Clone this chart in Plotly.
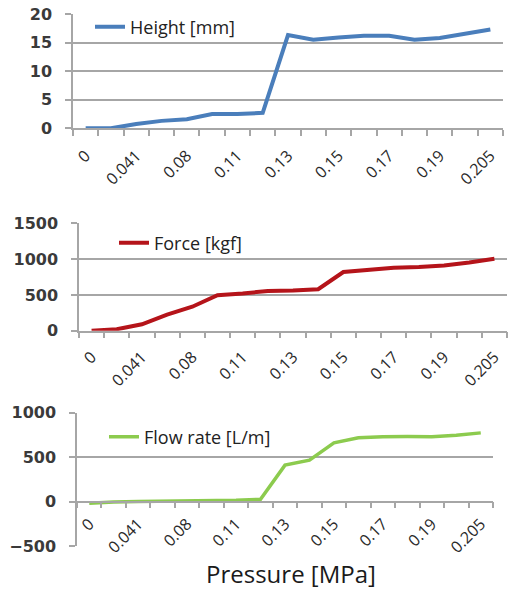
import plotly.graph_objects as go

# ---- data ----
pressure = ["0", "0.02", "0.041", "0.06", "0.08", "0.1", "0.11", "0.12", "0.13",
            "0.14", "0.15", "0.16", "0.17", "0.18", "0.19", "0.2", "0.205"]
height_mm = [0, 0, 0.75, 1.3, 1.6, 2.5, 2.5, 2.7, 16.3, 15.5, 15.9, 16.2, 16.2,
             15.5, 15.8, 16.5, 17.3]
force_kgf = [0, 20, 90, 225, 335, 495, 520, 555, 560, 580, 820, 850, 880, 888,
             911, 953, 1005]
flow_lpm = [-20, -5, 0, 2, 5, 10, 15, 25, 410, 466, 660, 717, 730, 732, 730,
            745, 773]
shown_labels = ["0", "0.041", "0.08", "0.11", "0.13", "0.15", "0.17", "0.19", "0.205"]

x_pos = list(range(len(pressure)))
tick_pos = [i for i, p in enumerate(pressure) if p in shown_labels]
tick_txt = [pressure[i] for i in tick_pos]

W, H = 508, 590
def fx(px):
    return px / W
def fy(py):
    return 1 - py / H

GRID = "#a6a6a6"
FONT = "Open Sans"

fig = go.Figure()
fig.add_trace(go.Scatter(x=x_pos, y=height_mm, mode="lines", name="Height [mm]",
                         line=dict(color="#4a7ebb", width=4), xaxis="x", yaxis="y",
                         legend="legend", showlegend=True))
fig.add_trace(go.Scatter(x=x_pos, y=force_kgf, mode="lines", name="Force [kgf]",
                         line=dict(color="#b5141a", width=4), xaxis="x2", yaxis="y2",
                         legend="legend2", showlegend=True))
fig.add_trace(go.Scatter(x=x_pos, y=flow_lpm, mode="lines", name="Flow rate [L/m]",
                         line=dict(color="#8ccb4e", width=3.5), xaxis="x3", yaxis="y3",
                         legend="legend3", showlegend=True))

def xaxis(domain, anchor, position=None, standoff=8):
    d = dict(domain=domain, range=[-0.5, len(pressure) - 0.5], tickmode="array",
             tickvals=tick_pos, ticktext=tick_txt, tickangle=-45, ticks="",
             showline=True, linecolor=GRID, linewidth=1.5, showgrid=False,
             zeroline=False, automargin=False,
             tickfont=dict(family=FONT, size=16, color="#2a2a2a"),
             ticklabelstandoff=standoff,
             minor=dict(ticks="outside", tickmode="linear", tick0=-0.5, dtick=1,
                        ticklen=6, tickcolor=GRID, tickwidth=1.5, showgrid=False),
             anchor=anchor)
    if position is not None:
        d["position"] = position
    return d

def yaxis(domain, rng, dtick, anchor):
    return dict(domain=domain, range=rng, dtick=dtick, tick0=rng[0], showgrid=True,
                gridcolor=GRID, gridwidth=1.5, showline=True, linecolor=GRID,
                linewidth=1.5, ticks="outside", ticklen=6, tickcolor=GRID,
                tickwidth=1.5, zeroline=False, anchor=anchor, automargin=False,
                ticklabelstandoff=10,
                tickfont=dict(family="DejaVu Sans", size=16, color="#3a3a3a",
                              weight="bold"))

y1d = [fy(128.3), fy(14)]
y2d = [fy(330.7), fy(223.3)]
y3d = [fy(546), fy(412.7)]
zero3 = y3d[0] + (y3d[1] - y3d[0]) / 3

LEGFONT = dict(family=FONT, size=18, color="#222")
fig.update_layout(
    width=W, height=H, margin=dict(l=0, r=0, t=0, b=0, autoexpand=False),
    paper_bgcolor="white", plot_bgcolor="white",
    font=dict(family=FONT), showlegend=True,
    xaxis=xaxis([fx(73), fx(503)], "y", standoff=10),
    yaxis=yaxis(y1d, [0, 20], 5, "x"),
    xaxis2=xaxis([fx(79), fx(507)], "y2", standoff=9),
    yaxis2=yaxis(y2d, [0, 1500], 500, "x2"),
    xaxis3=xaxis([fx(77), fx(493)], "free", position=zero3, standoff=6),
    yaxis3=yaxis(y3d, [-500, 1000], 500, "x3"),
    legend=dict(x=fx(90), y=fy(27), xanchor="left", yanchor="middle",
                bgcolor="rgba(0,0,0,0)", font=LEGFONT, visible=True),
    legend2=dict(x=fx(114), y=fy(243), xanchor="left", yanchor="middle",
                 bgcolor="rgba(0,0,0,0)", font=LEGFONT, visible=True),
    legend3=dict(x=fx(104), y=fy(437), xanchor="left", yanchor="middle",
                 bgcolor="rgba(0,0,0,0)", font=LEGFONT, visible=True),
    annotations=[dict(text="Pressure [MPa]", x=fx(291), y=fy(573), xref="paper",
                      yref="paper", xanchor="center", yanchor="middle", showarrow=False,
                      font=dict(family=FONT, size=24, color="#1a1a1a"))],
)

fig.write_html("out.html", config={"displayModeBar": False},
               post_script="document.body.style.margin='0';document.documentElement.style.margin='0';")
